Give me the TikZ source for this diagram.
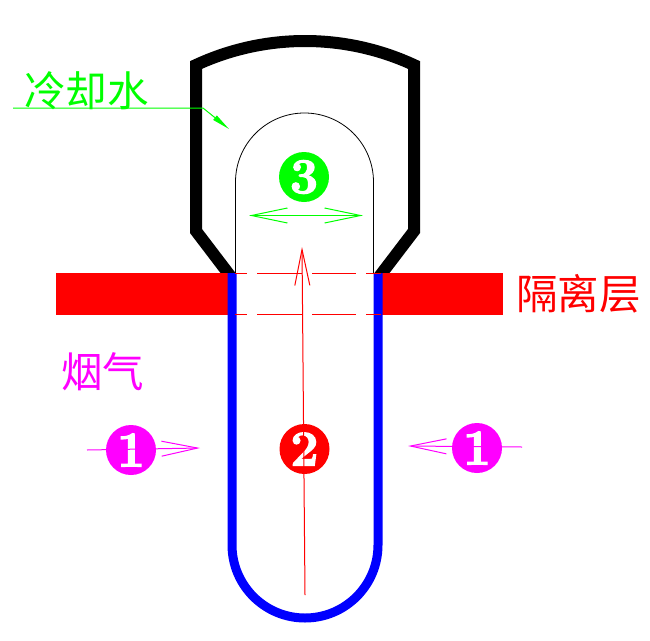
\documentclass[tikz,border=0pt]{standalone}
\usepackage{fontspec}
\usetikzlibrary{arrows.meta}
\newfontfamily\cjk{Noto Sans CJK SC}
\newfontfamily\numfont[FakeBold=2.5]{Latin Modern Roman}
\definecolor{pureGreen}{RGB}{0,255,0}
\definecolor{pureRed}{RGB}{255,0,0}
\definecolor{pureBlue}{RGB}{0,0,255}
\definecolor{pureMag}{RGB}{255,0,255}
\tikzset{
  numdot/.style={circle,minimum size=50pt,inner sep=0pt,text=white,font=\numfont\bfseries\fontsize{50}{50}\selectfont},
  label/.style={inner sep=0pt,font=\cjk\fontsize{41.5}{41.5}\selectfont},
  thinline/.style={line width=1pt},
  barbboth/.style={thinline,{Straight Barb[length=36pt,width=15pt,line width=1pt]}-{Straight Barb[length=36pt,width=15pt,line width=1pt]}},
  barbend/.style={thinline,-{Straight Barb[length=36pt,width=15pt,line width=1pt]}},
  redline/.style={pureRed,line width=1pt},
  tube/.style={pureBlue,line width=9pt},
  shell/.style={black,line width=12pt,miter limit=10}
}
\begin{document}
\begin{tikzpicture}[x=1pt,y=-1pt]
\useasboundingbox (0,0) rectangle (650,640);
% coordinates
\coordinate (gs) at (13,108); \coordinate (gk) at (203,108); \coordinate (gt) at (229,129);
\coordinate (r2a) at (305,595); \coordinate (r2b) at (302,247);
\coordinate (g3a) at (249,215.5); \coordinate (g3b) at (363,215.5);
\coordinate (m1a) at (87,450); \coordinate (m1b) at (200,448);
\coordinate (m2a) at (522,447); \coordinate (m2b) at (408,446);
% shell
\begin{scope}
\clip (150,0) rectangle (460,273);
\draw[shell] (237.6,285.6) -- (196,231) -- (196,65) .. controls (265,33) and (345,33) .. (414,65) -- (414,231) -- (372.4,285.6);
\end{scope}
% inner thin arch
\draw[black,line width=0.8pt] (235.5,273) -- (235.5,182) arc[start angle=180,end angle=360,radius=69] -- (373.5,273);
% insulating layer
\fill[pureRed] (56,273) rectangle (230,315);
\fill[pureRed] (380,273) rectangle (503,315);
% tube
\draw[tube] (232,273) -- (232,545) arc[start angle=180,end angle=0,radius=73] -- (378,273);
% dashes
\foreach \yy in {273.5,314.5}{
  \foreach \xa/\xb in {235/247,257/302,312/356,366/381}{
    \draw[redline] (\xa,\yy) -- (\xb,\yy);
  }
}
% labels
\node[label,text=pureGreen,anchor=south west] (cold) at (24,110) {冷却水};
\node[label,text=pureRed,anchor=west] (sep) at (516,294) {隔离层};
\node[label,text=pureMag,anchor=west] (gas) at (61,372) {烟气};
% numbered dots
\node[numdot,fill=pureMag] (oneL) at (131,450) {1};
\node[numdot,fill=pureMag] (oneR) at (477,448) {1};
\node[numdot,fill=pureRed] (two) at (304.5,449) {2};
\node[numdot,fill=pureGreen] (three) at (304,177) {3};
% connectors
\draw[pureGreen,line width=1pt,-{Triangle[length=18pt,width=5.5pt]}] (gs) -- (gk) -- (gt);
\draw[pureGreen,barbboth] (g3a) -- (g3b);
\draw[pureRed,barbend] (r2a) -- (r2b);
\draw[pureMag,barbend] (m1a) -- (m1b);
\draw[pureMag,barbend] (m2a) -- (m2b);
\end{tikzpicture}
\end{document}
